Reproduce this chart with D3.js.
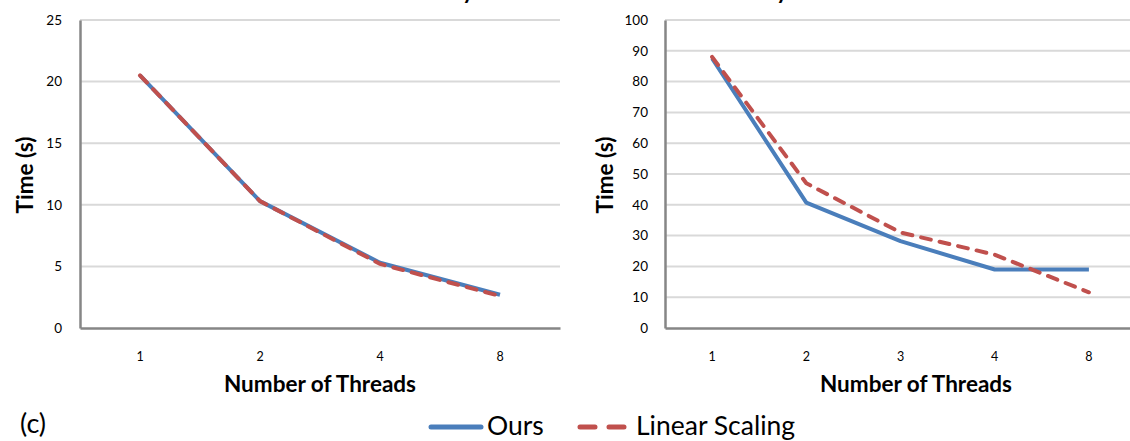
<!DOCTYPE html>
<html>
<head>
<meta charset="utf-8">
<script src="https://cdn.jsdelivr.net/npm/d3@7"></script>
<style>
  html, body { margin: 0; padding: 0; background: #fff; }
  svg { display: block; }
  text { font-family: Lato, "Open Sans", sans-serif; fill: #000; }
</style>
</head>
<body>
<svg id="chart" width="1130" height="441"></svg>
<script>
// ---- Data ----
const leftCategories = ["1", "2", "4", "8"];
const leftOurs = [20.5, 10.3, 5.3, 2.7];
const leftLinear = [20.5, 10.3, 5.2, 2.6];
const leftYTicks = [0, 5, 10, 15, 20, 25];

const rightCategories = ["1", "2", "3", "4", "8"];
const rightOurs = [87.5, 40.7, 28.2, 19, 19];
const rightLinear = [88, 47, 31, 23.8, 11.6];
const rightYTicks = [0, 10, 20, 30, 40, 50, 60, 70, 80, 90, 100];

const seriesNames = ["Ours", "Linear Scaling"];
const xTitle = "Number of Threads";
const yTitle = "Time (s)";
const panelLabel = "(c)";

const blue = "#4a7ebb";
const red = "#c0504d";

const svg = d3.select("#chart");

function panel(cfg) {
  const g = svg.append("g");
  const x = d3.scaleBand().domain(cfg.categories).range([cfg.x0, cfg.x1]);
  const y = d3.scaleLinear().domain([0, cfg.yMax]).range([cfg.yBottom, cfg.yTop]);

  // gridlines
  g.append("g").selectAll("line").data(cfg.yTicks.filter(d => d > 0)).join("line")
    .attr("x1", cfg.x0).attr("x2", cfg.x1)
    .attr("y1", d => y(d)).attr("y2", d => y(d))
    .attr("stroke", "#d9d9d9").attr("stroke-width", 2);

  // y axis
  const ya = g.append("g").attr("transform", `translate(${cfg.x0},0)`)
    .call(d3.axisLeft(y).tickValues(cfg.yTicks).tickSize(0).tickPadding(cfg.yPad));
  ya.select(".domain").attr("stroke", "#868686").attr("stroke-width", 2.5);
  ya.selectAll("text").style("font-family", "Lato, sans-serif").style("font-size", "13.5px").attr("fill", "#000");

  // x axis
  const xa = g.append("g").attr("transform", `translate(0,${cfg.yBottom})`)
    .call(d3.axisBottom(x).tickSize(0).tickPadding(24));
  xa.select(".domain").attr("stroke", "#868686").attr("stroke-width", 2.5);
  xa.selectAll("text").style("font-family", "Lato, sans-serif").style("font-size", "12.5px").attr("fill", "#000");

  const line = d3.line().x((d, i) => x(cfg.categories[i]) + x.bandwidth() / 2).y(d => y(d));

  g.append("path").datum(cfg.ours).attr("d", line)
    .attr("fill", "none").attr("stroke", blue).attr("stroke-width", 4)
    .attr("stroke-linejoin", "round");
  g.append("path").datum(cfg.linear).attr("d", line)
    .attr("fill", "none").attr("stroke", red).attr("stroke-width", 4)
    .attr("stroke-dasharray", "10,9").attr("stroke-linecap", "round");

  // axis titles
  g.append("text").attr("x", cfg.xTitleX).attr("y", 392)
    .attr("text-anchor", "middle").style("font-weight", "bold").style("font-size", "22.5px")
    .text(xTitle);
  g.append("text").attr("transform", `translate(${cfg.yTitleX},${175}) rotate(-90)`)
    .attr("text-anchor", "middle").style("font-weight", "bold").style("font-size", "22.5px")
    .text(yTitle);

  // clipped title fragment (top of chart cut off in the original)
  g.append("text").attr("x", cfg.titleFragX).attr("y", -1)
    .attr("text-anchor", "middle").style("font-weight", "bold").style("font-size", "22px")
    .text("y");
}

panel({
  categories: leftCategories, ours: leftOurs, linear: leftLinear, yTicks: leftYTicks,
  yMax: 25, x0: 80, x1: 560, yTop: 20, yBottom: 328, yPad: 18,
  xTitleX: 320, yTitleX: 33, titleFragX: 468
});
panel({
  categories: rightCategories, ours: rightOurs, linear: rightLinear, yTicks: rightYTicks,
  yMax: 100, x0: 665, x1: 1136, yTop: 20, yBottom: 328, yPad: 17,
  xTitleX: 916, yTitleX: 613, titleFragX: 782
});

// panel label
svg.append("text").attr("x", 20).attr("y", 433).style("font-size", "27px").text(panelLabel);

// legend
const legend = svg.append("g");
legend.append("line").attr("x1", 431).attr("x2", 481).attr("y1", 427).attr("y2", 427)
  .attr("stroke", blue).attr("stroke-width", 5).attr("stroke-linecap", "round");
legend.append("text").attr("x", 487).attr("y", 435).style("font-size", "26.5px").text(seriesNames[0]);
legend.append("line").attr("x1", 580).attr("x2", 630).attr("y1", 427).attr("y2", 427)
  .attr("stroke", red).attr("stroke-width", 5).attr("stroke-linecap", "round")
  .attr("stroke-dasharray", "15,14");
legend.append("text").attr("x", 636).attr("y", 435).style("font-size", "26.5px").text(seriesNames[1]);
</script>
</body>
</html>
